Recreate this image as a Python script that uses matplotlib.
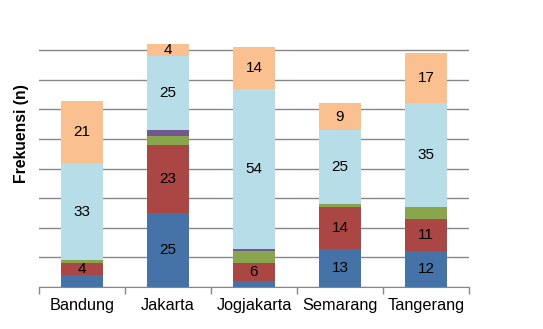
import numpy as np
import matplotlib.pyplot as plt

plt.rcParams['font.family'] = ['Liberation Sans', 'DejaVu Sans']

kota = ['Bandung', 'Jakarta', 'Jogjakarta', 'Semarang', 'Tangerang']
seri1 = [4, 25, 2, 13, 12]
seri2 = [4, 23, 6, 14, 11]
seri3 = [1, 3, 4, 1, 4]
seri4 = [0, 2, 1, 0, 0]
seri5 = [33, 25, 54, 25, 35]
seri6 = [21, 4, 14, 9, 17]
warna = ['#4572A7', '#AA4643', '#89A54E', '#71588F', '#B7DEE8', '#FAC090']
# which series get data labels, and single labels that were left off
tampil = [True, True, False, False, True, True]
sembunyi = [(0, 0), (0, 2)]

data = [seri1, seri2, seri3, seri4, seri5, seri6]

fig = plt.figure(figsize=(5.43, 3.29), dpi=100)
ax = fig.add_axes([39/543, 1-287/329, (469-39)/543, (287-20.6)/329])

x = np.arange(len(kota))
bawah = np.zeros(len(kota))
for i, s in enumerate(data):
    s = np.array(s)
    ax.bar(x, s, 0.49, bottom=bawah, color=warna[i], zorder=3)
    if tampil[i]:
        for j in range(len(kota)):
            if (i, j) in sembunyi or s[j] == 0:
                continue
            ax.text(x[j], bawah[j] + s[j]/2, str(s[j]), ha='center', va='center',
                    fontsize=11, zorder=4)
    bawah = bawah + s

ax.set_xlim(-0.5, 4.5)
ax.set_ylim(0, 90)
ax.set_yticks(range(0, 90, 10))
ax.yaxis.grid(True, color='#878787', linewidth=1, zorder=0)
ax.tick_params(axis='y', length=0, labelleft=False)

ax.set_xticks(x)
ax.set_xticklabels(kota, fontsize=11.7)
ax.set_xticks(np.arange(-0.5, 5, 1), minor=True)
ax.tick_params(axis='x', which='major', length=0, pad=8)
ax.tick_params(axis='x', which='minor', length=5, color='#878787', width=1)

for sp in ['top', 'right', 'left']:
    ax.spines[sp].set_visible(False)
ax.spines['bottom'].set_color('#878787')
ax.spines['bottom'].set_zorder(5)

fig.text(21.7/543, 1-134/329, 'Frekuensi (n)', rotation=90, ha='center', va='center',
         fontweight='bold', fontsize=11.3)

fig.savefig('out.png', dpi=100)
